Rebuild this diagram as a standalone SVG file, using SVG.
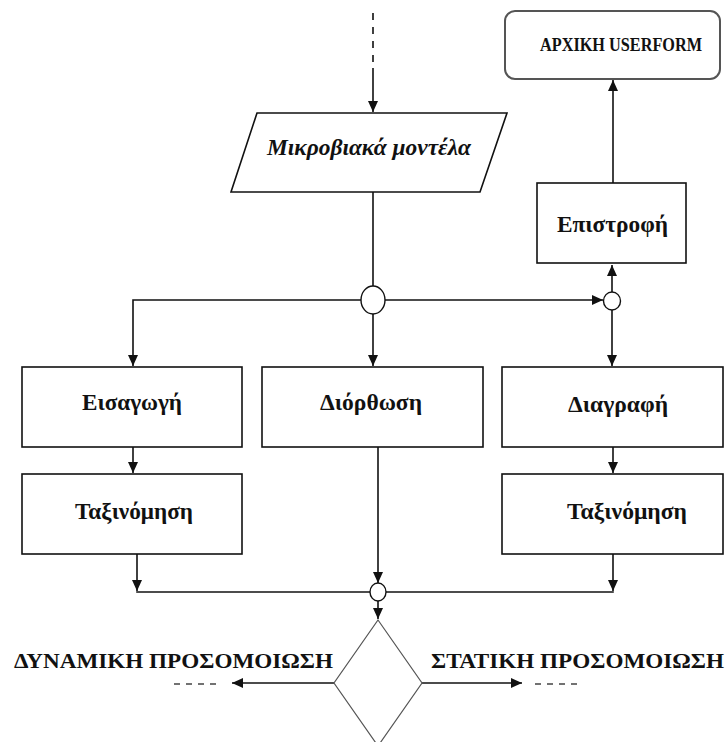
<svg xmlns="http://www.w3.org/2000/svg" width="727" height="742" viewBox="0 0 727 742">
<style>
.box{fill:#fff;stroke:#111;stroke-width:1.6}
.round{fill:#fff;stroke:#555;stroke-width:2}
.dia{fill:#fff;stroke:#555;stroke-width:1.2}
.jn{fill:#fff;stroke:#111;stroke-width:1.4}
.ln{fill:none;stroke:#111;stroke-width:1.6}
.dash{fill:none;stroke:#111;stroke-width:1.6;stroke-dasharray:7,7}
.t{font-family:"Liberation Serif","Times New Roman",serif;font-weight:bold;fill:#111;text-anchor:middle}
</style>
<defs>
<marker id="ah" markerUnits="userSpaceOnUse" markerWidth="12" markerHeight="12" viewBox="0 0 12 12" refX="11" refY="6" orient="auto">
<path d="M0,1 L11,6 L0,11 Z" fill="#111"/>
</marker>
</defs>
<rect width="727" height="742" fill="#fff"/>
<g id="connectors">
<line class="dash" x1="373" y1="13" x2="373" y2="68"/>
<line class="ln" x1="373" y1="68" x2="373" y2="112" marker-end="url(#ah)"/>
<line class="ln" x1="373" y1="192" x2="373" y2="286"/>
<path class="ln" d="M361,300 H133 V366" marker-end="url(#ah)"/>
<line class="ln" x1="373" y1="314" x2="373" y2="366" marker-end="url(#ah)"/>
<line class="ln" x1="385" y1="300" x2="603" y2="300" marker-end="url(#ah)"/>
<line class="ln" x1="612" y1="292" x2="612" y2="265" marker-end="url(#ah)"/>
<line class="ln" x1="613" y1="183" x2="613" y2="80" marker-end="url(#ah)"/>
<line class="ln" x1="612" y1="310" x2="612" y2="366" marker-end="url(#ah)"/>
<line class="ln" x1="133" y1="447" x2="133" y2="473" marker-end="url(#ah)"/>
<line class="ln" x1="613" y1="447" x2="613" y2="473" marker-end="url(#ah)"/>
<line class="ln" x1="137" y1="554" x2="137" y2="591" marker-end="url(#ah)"/>
<line class="ln" x1="136.2" y1="592" x2="370" y2="592"/>
<line class="ln" x1="378" y1="447" x2="378" y2="583" marker-end="url(#ah)"/>
<line class="ln" x1="613" y1="554" x2="613" y2="591" marker-end="url(#ah)"/>
<line class="ln" x1="613.8" y1="592" x2="386" y2="592"/>
<line class="ln" x1="378" y1="601" x2="378" y2="619" marker-end="url(#ah)"/>
<line class="ln" x1="334" y1="683" x2="232" y2="683" marker-end="url(#ah)"/>
<line class="ln" x1="422" y1="683" x2="522" y2="683" marker-end="url(#ah)"/>
<line class="ln" x1="174" y1="684" x2="216" y2="684" style="stroke-dasharray:6,6;stroke:#444;stroke-width:1.3"/>
<line class="ln" x1="535" y1="684" x2="582" y2="684" style="stroke-dasharray:6,6;stroke:#444;stroke-width:1.3"/>
</g>
<g id="microbial-models">
<polygon class="box" points="257,113 507,113 480,192 231,192"/>
<text class="t" x="369" y="155" font-size="24" font-style="italic" textLength="204" lengthAdjust="spacingAndGlyphs">Μικροβιακά μοντέλα</text>
</g>
<g id="initial-userform">
<rect class="round" x="505" y="11" width="215" height="68" rx="10"/>
<text class="t" x="540" y="51" font-size="18" style="text-anchor:start" textLength="162" lengthAdjust="spacingAndGlyphs">ΑΡΧΙΚΗ USERFORM</text>
</g>
<g id="return">
<rect class="box" x="537" y="183" width="149" height="80"/>
<text class="t" x="612.5" y="232" font-size="24" textLength="111" lengthAdjust="spacingAndGlyphs">Επιστροφή</text>
</g>
<g id="junction-top">
<ellipse class="jn" cx="373" cy="300" rx="12" ry="14"/>
</g>
<g id="junction-right">
<ellipse class="jn" cx="612" cy="301" rx="8.5" ry="9"/>
</g>
<g id="insert">
<rect class="box" x="22" y="367" width="220" height="80"/>
<text class="t" x="132" y="410" font-size="24" textLength="100" lengthAdjust="spacingAndGlyphs">Εισαγωγή</text>
</g>
<g id="correction">
<rect class="box" x="262" y="367" width="221" height="80"/>
<text class="t" x="371" y="410" font-size="24" textLength="102" lengthAdjust="spacingAndGlyphs">Διόρθωση</text>
</g>
<g id="delete">
<rect class="box" x="502" y="367" width="221" height="80"/>
<text class="t" x="618" y="412" font-size="24" textLength="100" lengthAdjust="spacingAndGlyphs">Διαγραφή</text>
</g>
<g id="sort-left">
<rect class="box" x="22" y="474" width="220" height="80"/>
<text class="t" x="134" y="519" font-size="24" textLength="118" lengthAdjust="spacingAndGlyphs">Ταξινόμηση</text>
</g>
<g id="sort-right">
<rect class="box" x="502" y="474" width="221" height="80"/>
<text class="t" x="627" y="519" font-size="24" textLength="120" lengthAdjust="spacingAndGlyphs">Ταξινόμηση</text>
</g>
<g id="junction-bottom">
<ellipse class="jn" cx="378" cy="592" rx="8" ry="9"/>
</g>
<g id="decision">
<polygon class="dia" points="378,620 422,683 378,746 334,683"/>
</g>
<g id="labels">
<text class="t" x="173.5" y="668" font-size="22" textLength="319" lengthAdjust="spacingAndGlyphs">ΔΥΝΑΜΙΚΗ ΠΡΟΣΟΜΟΙΩΣΗ</text>
<text class="t" x="577.5" y="668" font-size="22" textLength="293" lengthAdjust="spacingAndGlyphs">ΣΤΑΤΙΚΗ ΠΡΟΣΟΜΟΙΩΣΗ</text>
</g>
</svg>
